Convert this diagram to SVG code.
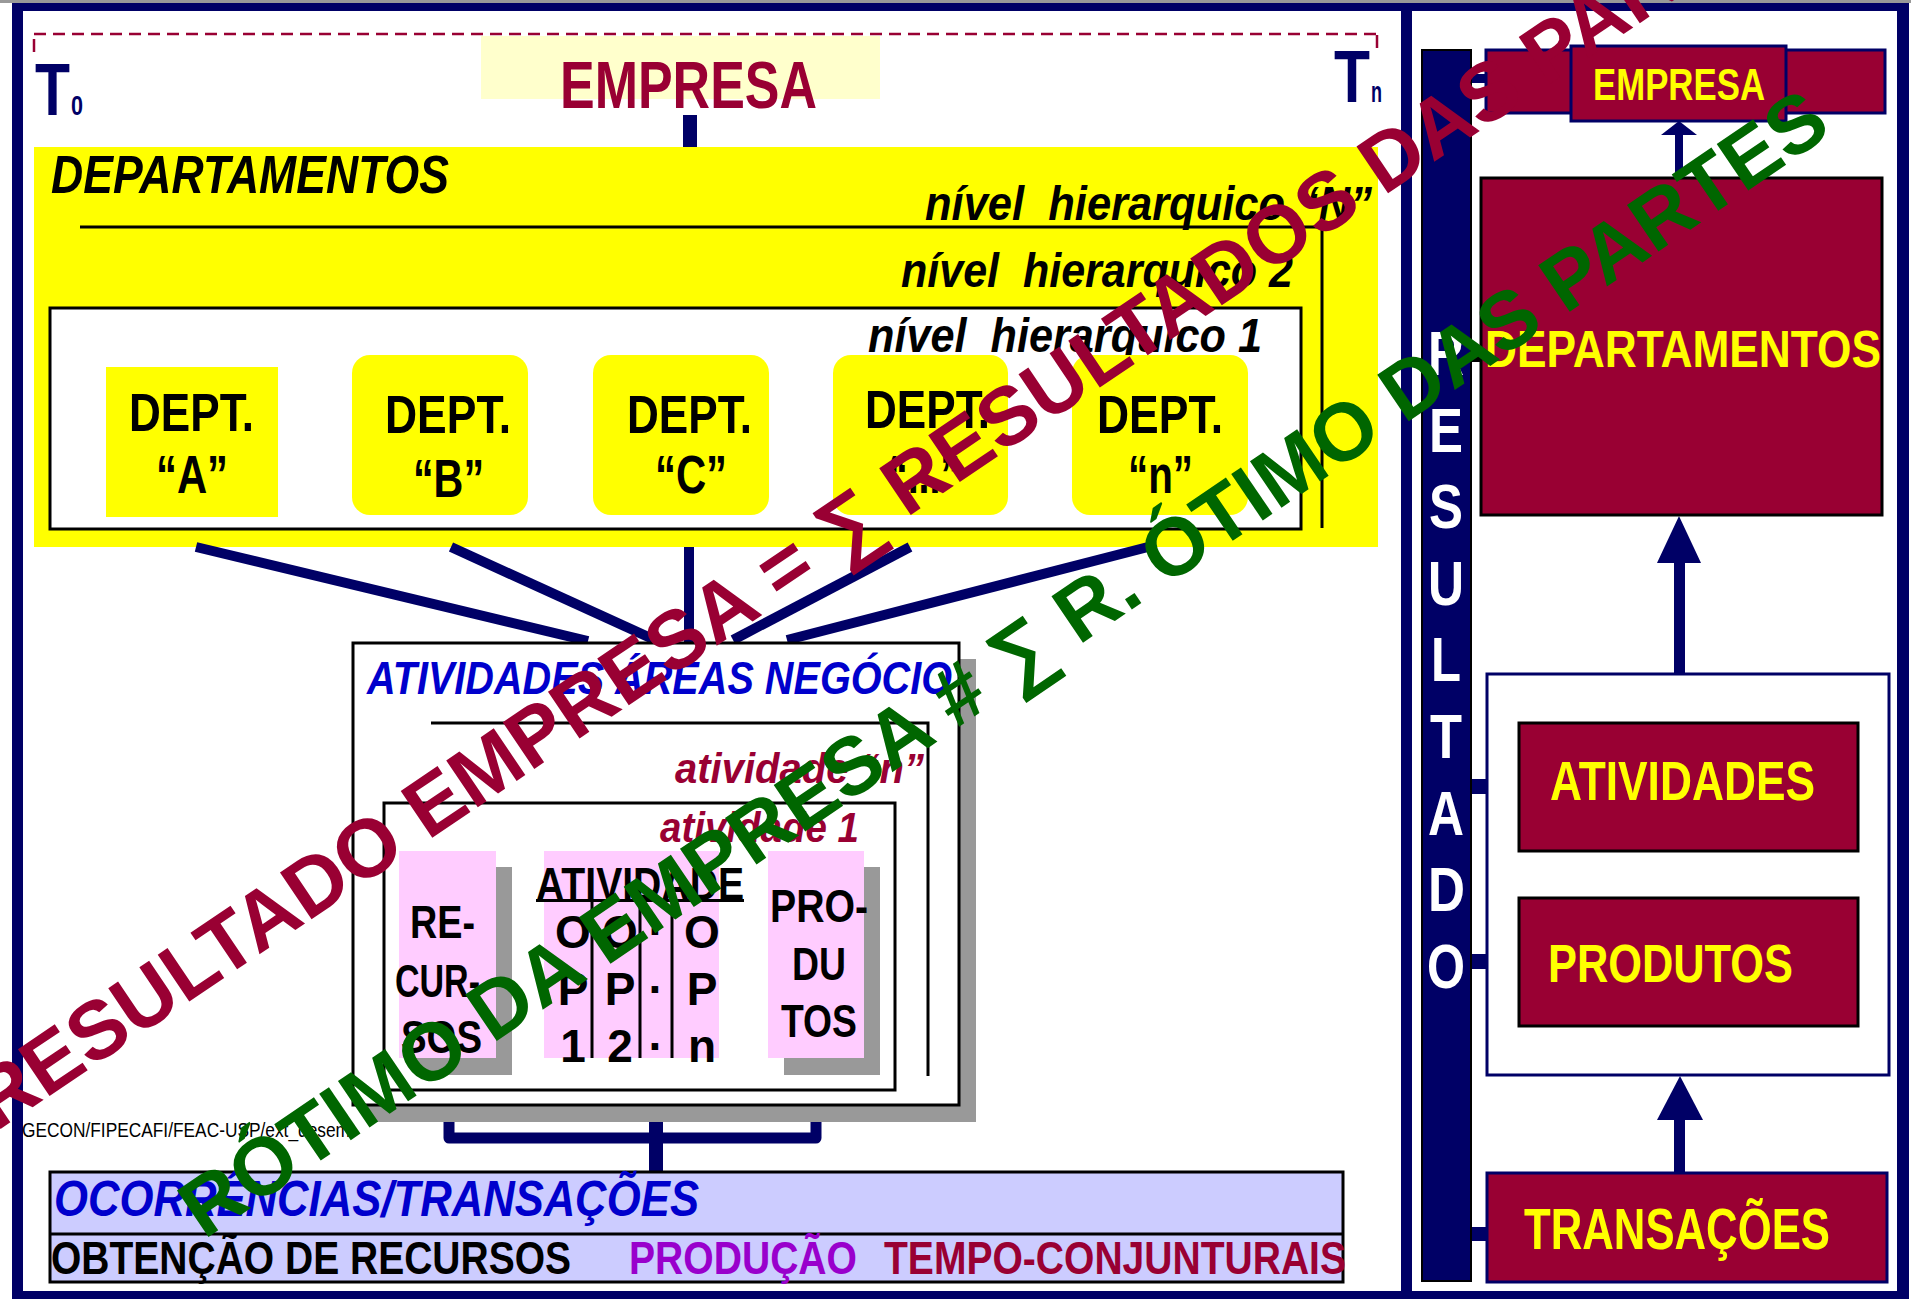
<svg xmlns="http://www.w3.org/2000/svg" width="1911" height="1299" viewBox="0 0 1911 1299">
<style>
.nb{font-family:"Liberation Sans Narrow","Arial Narrow","Liberation Sans",Arial,sans-serif;font-weight:bold}
.it{font-style:italic}
.nv{fill:#000066}
.cr{fill:#990033}
.yt{fill:#FFFF00}
.bx{fill:#990033;stroke:#000;stroke-width:3}
.bxn{fill:#990033;stroke:#000066;stroke-width:3}
.pk{fill:#FFCCFF}
.sh{fill:#999999}
.ln{stroke:#000;stroke-width:3}
.wm{font-family:"Liberation Sans",Arial,sans-serif;font-weight:bold}
</style>
<rect x="0" y="0" width="1911" height="1299" fill="#fff"/>
<rect x="0" y="0" width="1911" height="3" fill="#999"/>
<g id="frame" class="nv">
<rect x="12" y="3" width="1897" height="8"/>
<rect x="12" y="3" width="11" height="1296"/>
<rect x="1401" y="3" width="11" height="1296"/>
<rect x="1897" y="3" width="12" height="1296"/>
<rect x="12" y="1291" width="1897" height="8"/>
</g>
<g id="timeline">
<line x1="34" y1="34" x2="1377" y2="34" stroke="#990033" stroke-width="2.5" stroke-dasharray="12 7"/>
<line x1="34" y1="39" x2="34" y2="52" stroke="#990033" stroke-width="2.5"/>
<line x1="1377" y1="35" x2="1377" y2="48" stroke="#990033" stroke-width="2.5"/>
<text class="nb nv" font-size="75" x="35" y="115" textLength="35" lengthAdjust="spacingAndGlyphs">T</text>
<text class="nb nv" font-size="28" x="71" y="115" textLength="12" lengthAdjust="spacingAndGlyphs">0</text>
<text class="nb nv" font-size="75" x="1334" y="102" textLength="36" lengthAdjust="spacingAndGlyphs">T</text>
<text class="nb nv" font-size="29" x="1371" y="102" textLength="11" lengthAdjust="spacingAndGlyphs">n</text>
</g>
<g id="empresa">
<rect x="481" y="36" width="399" height="63" fill="#FFFFCC"/>
<text class="nb cr" font-size="66" x="560" y="108" textLength="257" lengthAdjust="spacingAndGlyphs">EMPRESA</text>
<rect x="683" y="115" width="14" height="32" class="nv"/>
</g>
<g id="departamentos">
<rect x="34" y="147" width="1344" height="400" fill="#FFFF00"/>
<text class="nb it" font-size="54" x="51" y="193" textLength="398" lengthAdjust="spacingAndGlyphs">DEPARTAMENTOS</text>
<polyline points="80,227 1322,227 1322,528" class="ln" fill="none"/>
<text class="nb it" font-size="48" x="925" y="220" textLength="447" lengthAdjust="spacingAndGlyphs" xml:space="preserve">nível  hierarquico “N”</text>
<text class="nb it" font-size="48" x="901" y="287" textLength="392" lengthAdjust="spacingAndGlyphs" xml:space="preserve">nível  hierarquico 2</text>
<rect x="50" y="308" width="1251" height="221" fill="#fff" class="ln"/>
<text class="nb it" font-size="48" x="868" y="352" textLength="394" lengthAdjust="spacingAndGlyphs" xml:space="preserve">nível  hierarquico 1</text>
</g>
<g id="dept-a">
<rect x="106" y="367" width="172" height="150" fill="#FFFF00"/>
<text class="nb" font-size="54" x="129" y="431" textLength="125" lengthAdjust="spacingAndGlyphs">DEPT.</text>
<text class="nb" font-size="54" x="156" y="493" textLength="72" lengthAdjust="spacingAndGlyphs">“A”</text>
</g>
<g id="dept-b">
<rect x="352" y="355" width="176" height="160" rx="18" fill="#FFFF00"/>
<text class="nb" font-size="54" x="385" y="433" textLength="126" lengthAdjust="spacingAndGlyphs">DEPT.</text>
<text class="nb" font-size="54" x="413" y="497" textLength="71" lengthAdjust="spacingAndGlyphs">“B”</text>
</g>
<g id="dept-c">
<rect x="593" y="355" width="176" height="160" rx="18" fill="#FFFF00"/>
<text class="nb" font-size="54" x="627" y="433" textLength="125" lengthAdjust="spacingAndGlyphs">DEPT.</text>
<text class="nb" font-size="54" x="655" y="493" textLength="72" lengthAdjust="spacingAndGlyphs">“C”</text>
</g>
<g id="dept-etc">
<rect x="833" y="355" width="175" height="160" rx="18" fill="#FFFF00"/>
<text class="nb" font-size="54" x="865" y="428" textLength="125" lengthAdjust="spacingAndGlyphs">DEPT.</text>
<text class="nb" font-size="54" x="888" y="493" textLength="72" lengthAdjust="spacingAndGlyphs">“...”</text>
</g>
<g id="dept-n">
<rect x="1072" y="355" width="176" height="160" rx="18" fill="#FFFF00"/>
<text class="nb" font-size="54" x="1097" y="433" textLength="126" lengthAdjust="spacingAndGlyphs">DEPT.</text>
<text class="nb" font-size="54" x="1128" y="493" textLength="65" lengthAdjust="spacingAndGlyphs">“n”</text>
</g>
<g id="connectors" stroke="#000066" fill="none">
<line x1="196" y1="547" x2="588" y2="641" stroke-width="10"/>
<line x1="451" y1="547" x2="655" y2="640" stroke-width="10"/>
<line x1="689" y1="547" x2="689" y2="643" stroke-width="10"/>
<line x1="910" y1="547" x2="733" y2="640" stroke-width="10"/>
<line x1="1148" y1="547" x2="787" y2="640" stroke-width="10"/>
<path d="M816,1072 V1138 H449 V1110" stroke-width="11" stroke-linejoin="round" stroke-linecap="round"/>
<path d="M449,1083 L469,1118 L449,1107 L429,1118 Z" fill="#000066" stroke="none"/>
<rect x="649" y="1122" width="14" height="50" fill="#000066" stroke="none"/>
<rect x="496" y="957" width="48" height="10" fill="#000" stroke="none"/>
<rect x="719" y="957" width="49" height="10" fill="#000" stroke="none"/>
<rect x="1471" y="74" width="15" height="9" fill="#000066" stroke="none"/>
<rect x="1471" y="349" width="11" height="13" fill="#000" stroke="none"/>
<rect x="1471" y="779" width="16" height="15" fill="#000066" stroke="none"/>
<rect x="1471" y="954" width="16" height="15" fill="#000066" stroke="none"/>
<rect x="1471" y="1227" width="16" height="14" fill="#000066" stroke="none"/>
<rect x="1675" y="134" width="8" height="45" fill="#000066" stroke="none"/>
<polygon points="1679,121 1697,135 1661,135" fill="#000066" stroke="none"/>
<rect x="1674" y="562" width="11" height="113" fill="#000066" stroke="none"/>
<polygon points="1679,516 1701,563 1657,563" fill="#000066" stroke="none"/>
<rect x="1678" y="871" width="4" height="27" fill="#000066" stroke="none"/>
<polygon points="1680,852 1691,872 1669,872" fill="#000066" stroke="none"/>
<rect x="1674" y="1119" width="11" height="54" fill="#000066" stroke="none"/>
<polygon points="1680,1076 1703,1120 1657,1120" fill="#000066" stroke="none"/>
</g>
<g id="atividades">
<rect x="368" y="659" width="608" height="463" class="sh"/>
<rect x="353" y="643" width="606" height="462" fill="#fff" class="ln"/>
<text class="nb it" font-size="47" x="367" y="694" textLength="585" lengthAdjust="spacingAndGlyphs" fill="#0000CC">ATIVIDADES ÁREAS NEGÓCIO</text>
<polyline points="431,723 928,723 928,1076" class="ln" fill="none"/>
<text class="nb it cr" font-size="42" x="675" y="783" textLength="249" lengthAdjust="spacingAndGlyphs">atividade “n”</text>
<rect x="384" y="803" width="511" height="287" fill="#fff" class="ln"/>
<text class="nb it cr" font-size="42" x="660" y="842" textLength="199" lengthAdjust="spacingAndGlyphs">atividade 1</text>
</g>
<g id="recursos">
<rect x="416" y="867" width="96" height="208" class="sh"/>
<rect x="399" y="851" width="97" height="207" class="pk"/>
<text class="nb" font-size="46" x="410" y="938" textLength="65" lengthAdjust="spacingAndGlyphs">RE-</text>
<text class="nb" font-size="46" x="395" y="997" textLength="85" lengthAdjust="spacingAndGlyphs">CUR-</text>
<text class="nb" font-size="46" x="401" y="1053" textLength="81" lengthAdjust="spacingAndGlyphs">SOS</text>
</g>
<g id="atividade">
<rect x="544" y="851" width="175" height="207" class="pk"/>
<text class="nb" font-size="46" x="536" y="900" textLength="208" lengthAdjust="spacingAndGlyphs">ATIVIDADE</text>
<rect x="536" y="899" width="208" height="3" fill="#000"/>
<g stroke="#000" stroke-width="3">
<line x1="592" y1="900" x2="592" y2="1058"/>
<line x1="640" y1="900" x2="640" y2="1058"/>
<line x1="672" y1="900" x2="672" y2="1058"/>
</g>
<g class="nb" font-size="46" text-anchor="middle">
<text x="573" y="948">O</text><text x="573" y="1005">P</text><text x="573" y="1062">1</text>
<text x="620" y="948">O</text><text x="620" y="1005">P</text><text x="620" y="1062">2</text>
<text x="655" y="935">.</text><text x="655" y="993">.</text><text x="655" y="1050">.</text>
<text x="702" y="948">O</text><text x="702" y="1005">P</text><text x="702" y="1062">n</text>
</g>
</g>
<g id="produtos">
<rect x="784" y="867" width="96" height="208" class="sh"/>
<rect x="768" y="851" width="96" height="207" class="pk"/>
<text class="nb" font-size="46" x="770" y="922" textLength="98" lengthAdjust="spacingAndGlyphs">PRO-</text>
<text class="nb" font-size="46" x="792" y="980" textLength="54" lengthAdjust="spacingAndGlyphs">DU</text>
<text class="nb" font-size="46" x="781" y="1037" textLength="76" lengthAdjust="spacingAndGlyphs">TOS</text>
</g>
<text id="credit" font-family="Liberation Sans Narrow,Arial Narrow,Liberation Sans,sans-serif" font-size="21" x="22" y="1137" textLength="328" lengthAdjust="spacingAndGlyphs">GECON/FIPECAFI/FEAC-USP/ext_desem</text>
<g id="ocorrencias">
<rect x="50" y="1172" width="1293" height="110" fill="#CCCCFF" class="ln"/>
<line x1="50" y1="1234" x2="1343" y2="1234" class="ln"/>
<text class="nb it" font-size="50" x="54" y="1216" textLength="645" lengthAdjust="spacingAndGlyphs" fill="#0000CC">OCORRÊNCIAS/TRANSAÇÕES</text>
<text class="nb" font-size="46" x="51" y="1274" textLength="520" lengthAdjust="spacingAndGlyphs">OBTENÇÃO DE RECURSOS</text>
<text class="nb" font-size="46" x="629" y="1274" textLength="228" lengthAdjust="spacingAndGlyphs" fill="#9900CC">PRODUÇÃO</text>
<text class="nb cr" font-size="46" x="884" y="1274" textLength="462" lengthAdjust="spacingAndGlyphs">TEMPO-CONJUNTURAIS</text>
</g>
<g id="resultado">
<rect x="1422" y="50" width="49" height="1231" fill="#000066" stroke="#000" stroke-width="2"/>
<g class="nb" font-size="63" fill="#fff">
<text x="1428" y="375" textLength="36" lengthAdjust="spacingAndGlyphs">R</text>
<text x="1429" y="452" textLength="34" lengthAdjust="spacingAndGlyphs">E</text>
<text x="1429" y="528" textLength="34" lengthAdjust="spacingAndGlyphs">S</text>
<text x="1428" y="605" textLength="36" lengthAdjust="spacingAndGlyphs">U</text>
<text x="1431" y="681" textLength="30" lengthAdjust="spacingAndGlyphs">L</text>
<text x="1430" y="758" textLength="32" lengthAdjust="spacingAndGlyphs">T</text>
<text x="1428" y="835" textLength="36" lengthAdjust="spacingAndGlyphs">A</text>
<text x="1428" y="911" textLength="37" lengthAdjust="spacingAndGlyphs">D</text>
<text x="1427" y="988" textLength="38" lengthAdjust="spacingAndGlyphs">O</text>
</g>
</g>
<g id="r-empresa">
<rect x="1486" y="50" width="399" height="63" class="bxn"/>
<rect x="1571" y="46" width="215" height="75" class="bxn"/>
<text class="nb yt" font-size="44" x="1593" y="100" textLength="172" lengthAdjust="spacingAndGlyphs">EMPRESA</text>
</g>
<g id="r-departamentos">
<rect x="1481" y="178" width="401" height="337" class="bx"/>
<text class="nb yt" font-size="52" x="1485" y="367" textLength="396" lengthAdjust="spacingAndGlyphs">DEPARTAMENTOS</text>
</g>
<g id="r-grupo">
<rect x="1487" y="674" width="402" height="401" fill="#fff" stroke="#000066" stroke-width="3"/>
</g>
<g id="r-atividades">
<rect x="1519" y="723" width="339" height="128" class="bx"/>
<text class="nb yt" font-size="55" x="1550" y="800" textLength="265" lengthAdjust="spacingAndGlyphs">ATIVIDADES</text>
</g>
<g id="r-produtos">
<rect x="1519" y="898" width="339" height="128" class="bx"/>
<text class="nb yt" font-size="53" x="1548" y="982" textLength="245" lengthAdjust="spacingAndGlyphs">PRODUTOS</text>
</g>
<g id="r-transacoes">
<rect x="1487" y="1173" width="400" height="109" class="bxn"/>
<text class="nb yt" font-size="57" x="1524" y="1249" textLength="306" lengthAdjust="spacingAndGlyphs">TRANSAÇÕES</text>
</g>
<g id="watermark">
<text class="wm" fill="#990033" font-size="82" transform="translate(-4,1132) rotate(-34)">RESULTADO EMPRESA = ∑ RESULTADOS DAS PARTES</text>
<text class="wm" fill="#006600" font-size="81.5" transform="translate(204,1240) rotate(-34.2)">RÓTIMO DA EMPRESA # ∑ R. ÓTIMO DAS PARTES</text>
</g>
</svg>
